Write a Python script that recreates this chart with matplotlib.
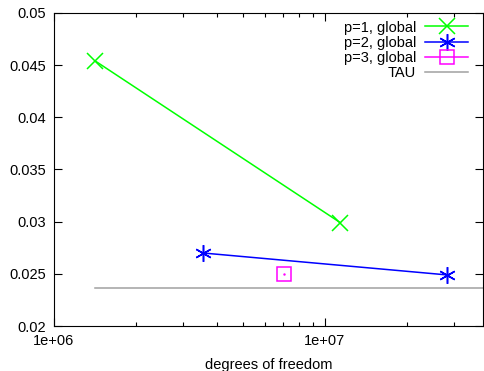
import matplotlib
matplotlib.use('Agg')
import matplotlib.pyplot as plt
import numpy as np
from matplotlib.ticker import LogLocator, NullFormatter, FixedLocator

plt.rcParams['font.family'] = ['Liberation Sans', 'DejaVu Sans']

# data
p1_dof = [1.42e6, 1.14e7]
p1_err = [0.0454, 0.0299]
p2_dof = [3.54e6, 2.81e7]
p2_err = [0.0270, 0.0249]
p3_dof = [7.06e6]
p3_err = [0.0250]
tau_dof = [1.42e6, 4.0e7]
tau_err = [0.02367, 0.02367]

fig = plt.figure(figsize=(4.84, 3.71), dpi=100)
ax = fig.add_axes([54 / 484, 45 / 371, 429 / 484, 313 / 371])

ax.plot(p1_dof, p1_err, color='#00ff00', lw=1.1, marker='x', ms=11, mew=1.1,
        label='p=1, global')
ax.plot(p2_dof, p2_err, color='#0000ff', lw=1.1, marker=(6, 2, 0), ms=12, mew=1.1,
        label='p=2, global')
ax.plot(p3_dof, p3_err, color='#ff00ff', lw=1.1, marker='s', ms=10, mew=1.1,
        mfc='none', label='p=3, global')
ax.plot(p3_dof, p3_err, color='#ff00ff', ls='none', marker='.', ms=1.5)
ax.plot(tau_dof, tau_err, color='#a0a0a0', lw=1.1, label='TAU')

ax.set_xscale('log')
ax.set_xlim(1e6, 3.83e7)
ax.set_ylim(0.02, 0.05)
ax.xaxis.set_major_locator(FixedLocator([1e6, 1e7]))
ax.set_xticklabels(['1e+06', '1e+07'])
ax.xaxis.set_minor_locator(LogLocator(base=10, subs=np.arange(2, 10)))
ax.xaxis.set_minor_formatter(NullFormatter())
yt = [0.02, 0.025, 0.03, 0.035, 0.04, 0.045, 0.05]
ax.set_yticks(yt)
ax.set_yticklabels(['0.02', '0.025', '0.03', '0.035', '0.04', '0.045', '0.05'])
ax.tick_params(which='both', direction='in', top=True, right=True, labelsize=10.5)
ax.tick_params(which='major', length=6, width=0.8)
ax.tick_params(which='minor', length=3, width=0.8)
ax.tick_params(axis='x', pad=6)
ax.tick_params(axis='y', pad=6)
ax.set_xlabel('degrees of freedom', fontsize=10.5, labelpad=7)

leg = ax.legend(loc='upper right', bbox_to_anchor=(1.0, 1.0 + 7 / 313),
                frameon=False, markerfirst=False,
                fontsize=10.5, handlelength=3.0, labelspacing=0.08,
                borderaxespad=0.6, handletextpad=0.6)

fig.savefig('out.png', dpi=100)
